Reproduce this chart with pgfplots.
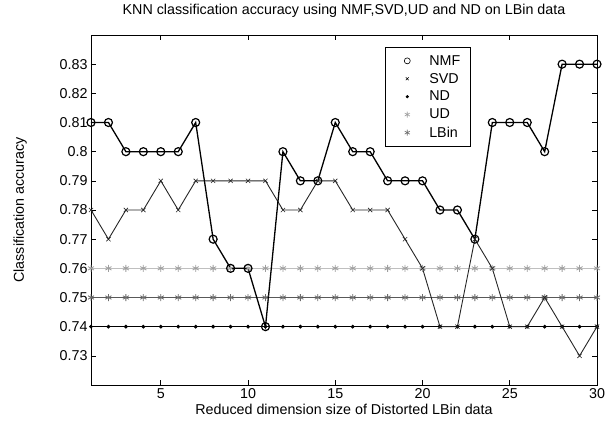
\documentclass[border=0pt]{standalone}
\usepackage{fontspec}
\setmainfont{Liberation Sans}
\usepackage{pgfplots}
\pgfplotsset{compat=1.18}
\definecolor{udline}{gray}{0.75}
\definecolor{udmark}{gray}{0.62}
\definecolor{lbline}{gray}{0.35}
\definecolor{lbmark}{gray}{0.42}
\begin{document}
\begin{tikzpicture}
\begin{axis}[
  scale only axis, width=506pt, height=350pt,
  xmin=1, xmax=30, ymin=0.72, ymax=0.84,
  xtick={5,10,15,20,25,30},
  xticklabels={5,10,15,20,25,30},
  ytick={0.73,0.74,0.75,0.76,0.77,0.78,0.79,0.80,0.81,0.82,0.83},
  yticklabels={0.73,0.74,0.75,0.76,0.77,0.78,0.79,0.8,0.81,0.82,0.83},
  tick align=inside, major tick length=5pt,
  tick style={black, line width=0.6pt},
  axis line style={line width=0.8pt},
  tick label style={font=\fontsize{14.3}{16}\selectfont},
  label style={font=\fontsize{14.3}{16}\selectfont},
  title style={font=\fontsize{14.3}{16}\selectfont, yshift=8pt},
  title={KNN classification accuracy using NMF,SVD,UD and ND on LBin data},
  xlabel={Reduced dimension size of Distorted LBin data},
  ylabel={Classification accuracy},
  xlabel style={yshift=1pt},
  ylabel style={yshift=26pt},
  legend style={at={(0.581,0.966)}, anchor=north west, draw=black, line width=0.6pt,
    font=\fontsize{14.3}{16}\selectfont, row sep=2.5pt, inner xsep=8pt, inner ysep=6pt},
  legend cell align=left,
  legend image code/.code={\path[draw=none,fill=none] (0pt,-3pt) rectangle (34pt,3pt);
    \draw[#1] plot coordinates {(14pt,0pt)};},
]
\coordinate (SW) at (rel axis cs:0,0);
\addlegendimage{mark=o, black, mark size=3pt, line width=0.6pt}
\addlegendentry{NMF}
\addlegendimage{mark=x, black, mark size=2pt, line width=0.5pt}
\addlegendentry{SVD}
\addlegendimage{mark=*, black, mark size=1.3pt}
\addlegendentry{ND}
\addlegendimage{mark=asterisk, udmark, mark size=3pt, line width=0.6pt}
\addlegendentry{UD}
\addlegendimage{mark=asterisk, lbmark, mark size=3pt, line width=0.6pt}
\addlegendentry{LBin}

% UD
\addplot[forget plot, udline, line width=1.5pt, mark=asterisk, mark size=3.5pt,
  mark options={udmark, line width=0.8pt}] coordinates {
(1,0.76)(2,0.76)(3,0.76)(4,0.76)(5,0.76)(6,0.76)(7,0.76)(8,0.76)(9,0.76)(10,0.76)
(11,0.76)(12,0.76)(13,0.76)(14,0.76)(15,0.76)(16,0.76)(17,0.76)(18,0.76)(19,0.76)(20,0.76)
(21,0.76)(22,0.76)(23,0.76)(24,0.76)(25,0.76)(26,0.76)(27,0.76)(28,0.76)(29,0.76)(30,0.76)};
% LBin
\addplot[forget plot, lbline, line width=1.8pt, mark=asterisk, mark size=3.5pt,
  mark options={lbmark, line width=0.8pt}] coordinates {
(1,0.75)(2,0.75)(3,0.75)(4,0.75)(5,0.75)(6,0.75)(7,0.75)(8,0.75)(9,0.75)(10,0.75)
(11,0.75)(12,0.75)(13,0.75)(14,0.75)(15,0.75)(16,0.75)(17,0.75)(18,0.75)(19,0.75)(20,0.75)
(21,0.75)(22,0.75)(23,0.75)(24,0.75)(25,0.75)(26,0.75)(27,0.75)(28,0.75)(29,0.75)(30,0.75)};
% ND
\addplot[forget plot, black, line width=0.8pt, mark=*, mark size=1.5pt] coordinates {
(1,0.74)(2,0.74)(3,0.74)(4,0.74)(5,0.74)(6,0.74)(7,0.74)(8,0.74)(9,0.74)(10,0.74)
(11,0.74)(12,0.74)(13,0.74)(14,0.74)(15,0.74)(16,0.74)(17,0.74)(18,0.74)(19,0.74)(20,0.74)
(21,0.74)(22,0.74)(23,0.74)(24,0.74)(25,0.74)(26,0.74)(27,0.74)(28,0.74)(29,0.74)(30,0.74)};
% SVD
\addplot[forget plot, black!85, line width=0.9pt, mark=x, mark size=3pt,
  mark options={line width=0.6pt}] coordinates {
(1,0.78)(2,0.77)(3,0.78)(4,0.78)(5,0.79)(6,0.78)(7,0.79)(8,0.79)(9,0.79)(10,0.79)
(11,0.79)(12,0.78)(13,0.78)(14,0.79)(15,0.79)(16,0.78)(17,0.78)(18,0.78)(19,0.77)(20,0.76)
(21,0.74)(22,0.74)(23,0.77)(24,0.76)(25,0.74)(26,0.74)(27,0.75)(28,0.74)(29,0.73)(30,0.74)};
% NMF
\addplot[forget plot, black, line width=1.3pt, mark=o, mark size=4pt,
  mark options={line width=1.2pt}] coordinates {
(1,0.81)(2,0.81)(3,0.80)(4,0.80)(5,0.80)(6,0.80)(7,0.81)(8,0.77)(9,0.76)(10,0.76)
(11,0.74)(12,0.80)(13,0.79)(14,0.79)(15,0.81)(16,0.80)(17,0.80)(18,0.79)(19,0.79)(20,0.79)
(21,0.78)(22,0.78)(23,0.77)(24,0.81)(25,0.81)(26,0.81)(27,0.80)(28,0.83)(29,0.83)(30,0.83)};
\end{axis}
\pgfresetboundingbox
\useasboundingbox ([xshift=-91pt,yshift=-41pt]SW) rectangle ([xshift=514pt,yshift=385pt]SW);
\end{tikzpicture}
\end{document}
